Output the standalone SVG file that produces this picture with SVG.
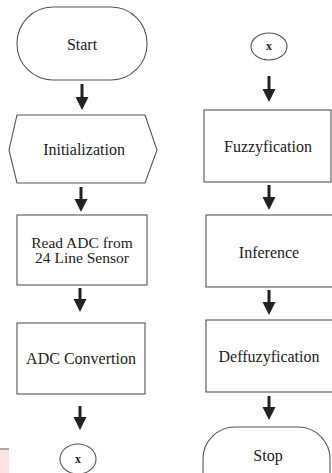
<svg xmlns="http://www.w3.org/2000/svg" width="332" height="473" viewBox="0 0 332 473">
<style>
.n{fill:#fff;stroke:#555;stroke-width:1.1}
.t{font-family:'Liberation Serif','DejaVu Serif',serif;font-size:16px;fill:#222;text-anchor:middle}
.r{font-family:'Liberation Serif','DejaVu Serif',serif;font-size:15.5px;fill:#222;text-anchor:middle}
.s{font-family:'Liberation Serif','DejaVu Serif',serif;font-size:12px;font-weight:bold;fill:#222;text-anchor:middle}
.c{stroke:#222;stroke-width:3;fill:none}
.h{fill:#222}
</style>
<defs>
<path id="ah" d="M-6.5,-13 L6.5,-13 L0,0 Z"/>
</defs>
<rect width="332" height="473" fill="#fff"/>
<rect x="0" y="449" width="9" height="24" fill="#fde3e6"/>
<rect x="0" y="448" width="9" height="2" fill="#aaa"/>
<g id="start"><rect class="n" x="17" y="7" width="130" height="73" rx="36" ry="36"/><text class="t" x="82" y="50">Start</text></g>
<g id="init"><polygon class="n" points="17,115 145,115 157,150 145,183 17,183 9,150"/><text class="t" x="84" y="155">Initialization</text></g>
<g id="read"><rect class="n" x="17" y="215" width="130" height="70"/><text class="r" x="82" y="247.5">Read ADC from</text><text class="r" x="82" y="263">24 Line Sensor</text></g>
<g id="conv"><rect class="n" x="17" y="323" width="128" height="71"/><text class="t" x="81" y="364">ADC Convertion</text></g>
<g id="x1"><ellipse class="n" cx="78" cy="459" rx="18" ry="15"/><text class="s" x="78" y="463">x</text></g>
<g id="x2"><ellipse class="n" cx="269" cy="46.5" rx="18" ry="13.5"/><text class="s" x="269" y="50">x</text></g>
<g id="fuzz"><rect class="n" x="204" y="110" width="127" height="72"/><text class="t" x="268" y="152">Fuzzyfication</text></g>
<g id="inf"><rect class="n" x="206" y="215" width="130" height="72"/><text class="t" x="269" y="258">Inference</text></g>
<g id="deff"><rect class="n" x="206" y="320" width="130" height="72"/><text class="t" x="269" y="362">Deffuzyfication</text></g>
<g id="stop"><rect class="n" x="203" y="427" width="127" height="80" rx="32" ry="32"/><text class="t" x="268" y="461">Stop</text></g>
<g id="connectors">
<line class="c" x1="82" y1="84" x2="82" y2="99"/><use href="#ah" class="h" transform="translate(82,110)"/>
<line class="c" x1="81" y1="187" x2="81" y2="201"/><use href="#ah" class="h" transform="translate(81,212)"/>
<line class="c" x1="80" y1="288" x2="80" y2="301"/><use href="#ah" class="h" transform="translate(80,312)"/>
<line class="c" x1="80" y1="406" x2="80" y2="419"/><use href="#ah" class="h" transform="translate(80,430)"/>
<line class="c" x1="269" y1="76" x2="269" y2="91"/><use href="#ah" class="h" transform="translate(269,102)"/>
<line class="c" x1="269" y1="185" x2="269" y2="199"/><use href="#ah" class="h" transform="translate(269,210)"/>
<line class="c" x1="269" y1="290" x2="269" y2="304"/><use href="#ah" class="h" transform="translate(269,315)"/>
<line class="c" x1="269" y1="396" x2="269" y2="409"/><use href="#ah" class="h" transform="translate(269,420)"/>
</g>
</svg>
